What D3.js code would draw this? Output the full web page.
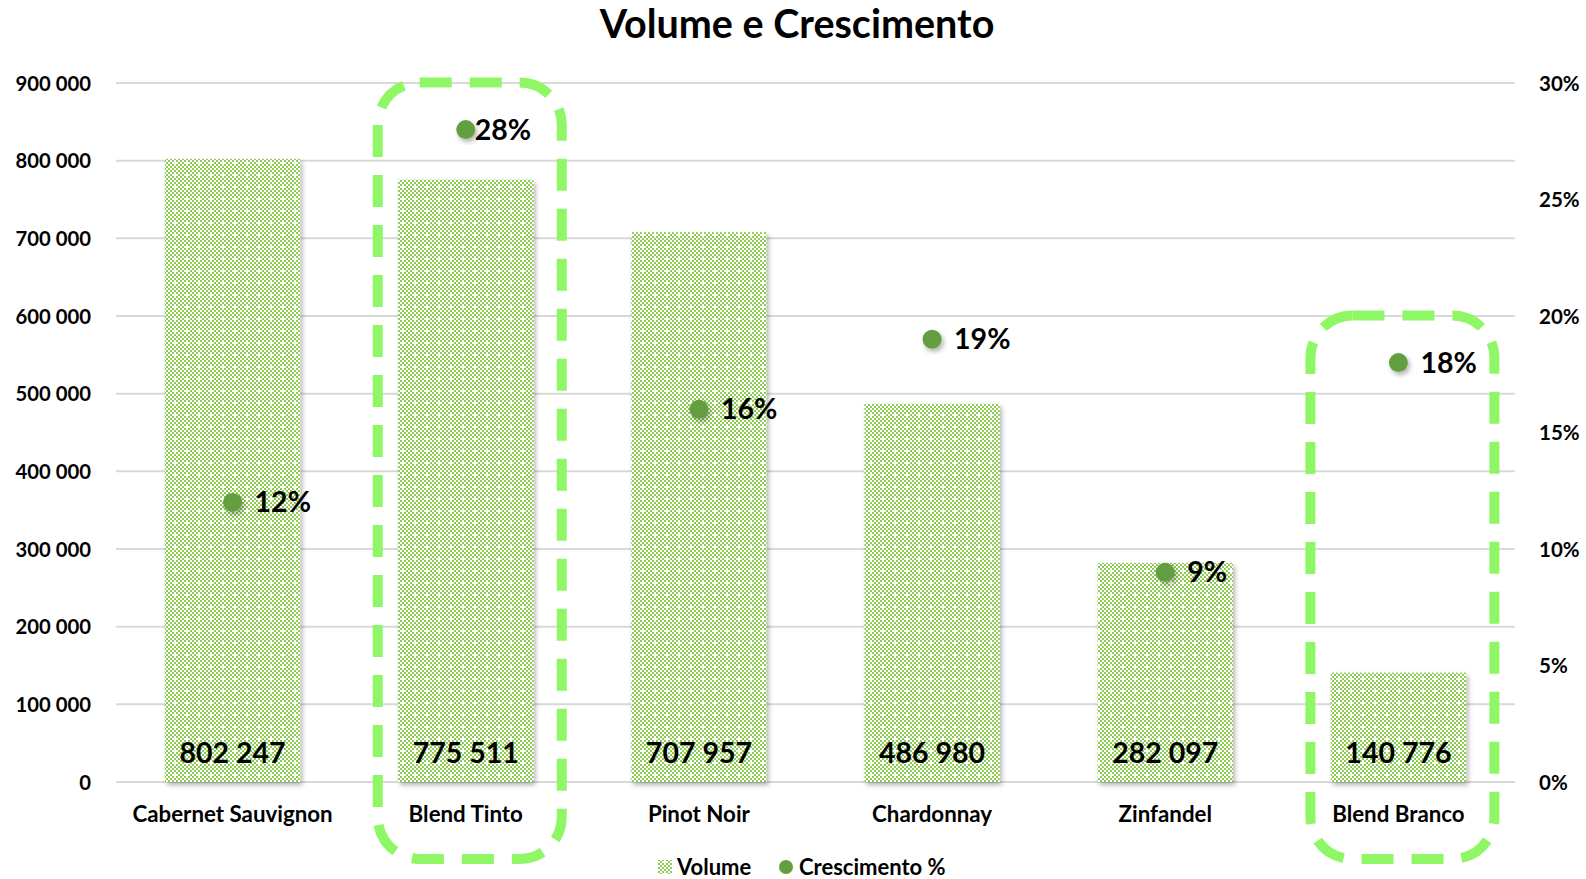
<!DOCTYPE html>
<html>
<head>
<meta charset="utf-8">
<script src="https://cdn.jsdelivr.net/npm/d3@7"></script>
<style>
  body { margin: 0; background: #fff; }
  text { font-family: Lato, "Open Sans", sans-serif; font-weight: bold; fill: #000; }
</style>
</head>
<body>
<svg id="chart"></svg>
<script>
// chart data
let categories = ["Cabernet Sauvignon", "Blend Tinto", "Pinot Noir", "Chardonnay", "Zinfandel", "Blend Branco"];
let volumes = [802247, 775511, 707957, 486980, 282097, 140776];
let growth = [0.12, 0.28, 0.16, 0.19, 0.09, 0.18];
let highlighted = ["Blend Tinto", "Blend Branco"];
let leftTicks = [0, 100000, 200000, 300000, 400000, 500000, 600000, 700000, 800000, 900000];
let rightTicks = [0, 0.05, 0.10, 0.15, 0.20, 0.25, 0.30];

let width = 1586, height = 879;
let margin = { top: 83, right: 71, bottom: 97, left: 116 };
let barGreen = "#8dcb52";
let dotGreen = "#649f3f";
let boxGreen = "#8ff766";

let svg = d3.select("#chart").attr("width", width).attr("height", height);
let defs = svg.append("defs");

// checker pattern like the excel fill
let pat = defs.append("pattern")
  .attr("id", "checker")
  .attr("patternUnits", "userSpaceOnUse")
  .attr("width", 12).attr("height", 12);
pat.append("rect").attr("width", 12).attr("height", 12).attr("fill", "#fff");
for (let i = 0; i < 6; i++) {
  for (let j = 0; j < 6; j++) {
    if ((i + j) % 2 == 0) {
      pat.append("rect").attr("x", i * 2).attr("y", j * 2).attr("width", 2).attr("height", 2).attr("fill", barGreen);
    }
  }
}
// little white crosses
pat.append("rect").attr("x", 4).attr("y", 6).attr("width", 4).attr("height", 2).attr("fill", "#fff");
pat.append("rect").attr("x", 6).attr("y", 4).attr("width", 2).attr("height", 4).attr("fill", "#fff");

let shadow = defs.append("filter").attr("id", "shadow")
  .attr("x", "-30%").attr("y", "-30%").attr("width", "160%").attr("height", "160%");
shadow.append("feDropShadow").attr("dx", 2).attr("dy", 3).attr("stdDeviation", 2.5)
  .attr("flood-color", "#000").attr("flood-opacity", 0.3);

let x = d3.scaleBand()
  .domain(categories)
  .range([margin.left, width - margin.right])
  .paddingInner(0.42)
  .paddingOuter(0.21);

let y = d3.scaleLinear().domain([0, 900000]).range([height - margin.bottom, margin.top]);
let y2 = d3.scaleLinear().domain([0, 0.30]).range([height - margin.bottom, margin.top]);

// title
svg.append("text")
  .attr("x", 797).attr("y", 38)
  .attr("text-anchor", "middle")
  .style("font-size", "39.5px")
  .text("Volume e Crescimento");

// gridlines
svg.append("g")
  .selectAll("line")
  .data(leftTicks)
  .join("line")
  .attr("x1", margin.left).attr("x2", width - margin.right)
  .attr("y1", d => y(d)).attr("y2", d => y(d))
  .attr("stroke", "#d9d9d9").attr("stroke-width", 2);

// left axis
let fmt = d => d3.format(",")(d).replace(/,/g, " ");
let leftAxis = svg.append("g")
  .attr("transform", `translate(${margin.left - 22},0)`)
  .call(d3.axisLeft(y).tickValues(leftTicks).tickFormat(fmt).tickSize(0));
leftAxis.select(".domain").remove();
leftAxis.selectAll("text").style("font-size", "20.3px").attr("dy", "0.35em");

// right axis
let rightAxis = svg.append("g")
  .attr("transform", `translate(${width - margin.right + 21},0)`)
  .call(d3.axisRight(y2).tickValues(rightTicks).tickFormat(d3.format(".0%")).tickSize(0));
rightAxis.select(".domain").remove();
rightAxis.selectAll("text").style("font-size", "20.5px").attr("dy", "0.35em");

// bars
svg.append("g")
  .selectAll("rect")
  .data(categories)
  .join("rect")
  .attr("x", d => x(d))
  .attr("y", (d, i) => y(volumes[i]))
  .attr("width", x.bandwidth())
  .attr("height", (d, i) => y(0) - y(volumes[i]))
  .attr("fill", "url(#checker)")
  .attr("filter", "url(#shadow)");

// volume labels
svg.append("g")
  .selectAll("text")
  .data(categories)
  .join("text")
  .attr("x", d => x(d) + x.bandwidth() / 2)
  .attr("y", y(0) - 19)
  .attr("text-anchor", "middle")
  .style("font-size", "28.5px")
  .text((d, i) => fmt(volumes[i]));

// category labels
svg.append("g")
  .selectAll("text")
  .data(categories)
  .join("text")
  .attr("x", d => x(d) + x.bandwidth() / 2)
  .attr("y", y(0) + 40)
  .attr("text-anchor", "middle")
  .style("font-size", "22.3px")
  .text(d => d);

// highlight boxes
svg.append("g")
  .selectAll("rect")
  .data(highlighted)
  .join("rect")
  .attr("x", d => x(d) + x.bandwidth() / 2 - 88)
  .attr("y", d => y2(growth[categories.indexOf(d)]) - 47)
  .attr("width", 184)
  .attr("height", d => 859 - (y2(growth[categories.indexOf(d)]) - 47))
  .attr("rx", 42).attr("ry", 42)
  .attr("fill", "none")
  .attr("stroke", boxGreen)
  .attr("stroke-width", 10)
  .attr("stroke-dasharray", "32 18");

// growth dots
svg.append("g")
  .selectAll("circle")
  .data(categories)
  .join("circle")
  .attr("cx", d => x(d) + x.bandwidth() / 2)
  .attr("cy", (d, i) => y2(growth[i]))
  .attr("r", 9.5)
  .attr("fill", dotGreen)
  .attr("filter", "url(#shadow)");

svg.append("g")
  .selectAll("text")
  .data(categories)
  .join("text")
  .attr("x", d => x(d) + x.bandwidth() / 2 + (d == "Blend Tinto" ? 9 : 22))
  .attr("y", (d, i) => y2(growth[i]))
  .attr("dy", "0.35em")
  .style("font-size", "28.5px")
  .text((d, i) => d3.format(".0%")(growth[i]));

// legend
let legend = svg.append("g").attr("transform", "translate(658,867)");
legend.append("rect").attr("x", 0).attr("y", -7).attr("width", 14).attr("height", 14).attr("fill", "url(#checker)");
legend.append("text").attr("x", 19).attr("y", 0).attr("dy", "0.35em").style("font-size", "22px").text("Volume");
legend.append("circle").attr("cx", 128).attr("cy", 0).attr("r", 7).attr("fill", dotGreen);
legend.append("text").attr("x", 141).attr("y", 0).attr("dy", "0.35em").style("font-size", "22px").text("Crescimento %");
</script>
</body>
</html>
